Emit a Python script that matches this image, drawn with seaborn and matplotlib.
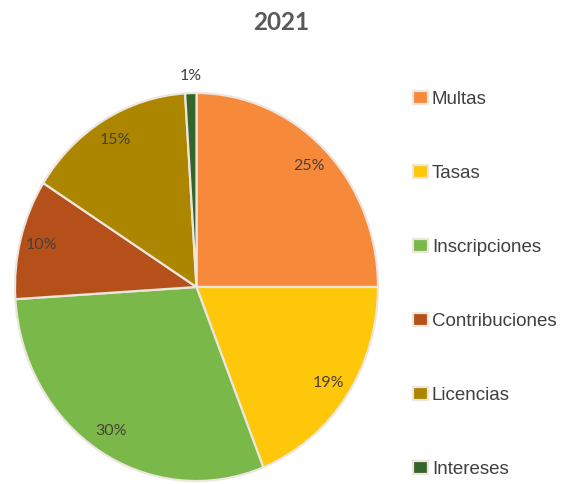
import matplotlib.pyplot as plt
import seaborn as sns
import numpy as np

sns.set_theme(style="white")
plt.rcParams['font.family'] = ['Liberation Sans', 'DejaVu Sans']

# Data
categorias = ['Multas', 'Tasas', 'Inscripciones', 'Contribuciones', 'Licencias', 'Intereses']
porcentajes = [25, 19, 30, 10, 15, 1]
colores = ['#F7893B', '#FEC70A', '#7AB84A', '#B5501A', '#AD8600', '#34662C']
titulo = '2021'

palette = sns.color_palette(colores)

fig = plt.figure(figsize=(5.74, 4.84), dpi=100)
# the pie in the reference is slightly taller than wide
ax = fig.add_axes([15 / 574, 3 / 484, 363 / 574, 388 / 484])

wedges, textos, pct = ax.pie(
    porcentajes,
    colors=palette,
    startangle=90,
    counterclock=False,
    autopct='%1.0f%%',
    pctdistance=0.88,
    wedgeprops=dict(edgecolor='#ece6df', linewidth=1.6),
    textprops=dict(color='#4a4036', fontsize=11.5, family=['Lato', 'DejaVu Sans']),
)
ax.set_aspect('auto')
ax.set_xlim(-1, 1)
ax.set_ylim(-1, 1)

# the tiny slice gets its label just outside the pie
w = wedges[-1]
ang = np.deg2rad((w.theta1 + w.theta2) / 2)
pct[-1].set_position((1.09 * np.cos(ang), 1.09 * np.sin(ang)))
pct[-1].set_color('#404040')

fig.text(281 / 574, 1 - 23 / 484, titulo, ha='center', va='center',
         fontsize=17.5, fontweight='bold', color='#595959', family=['Lato', 'DejaVu Sans'])

leg = fig.legend(
    wedges, categorias,
    loc='upper left', bbox_to_anchor=(413 / 574, 1 - 91 / 484),
    frameon=False, fontsize=13.5,
    borderpad=0, borderaxespad=0,
    handlelength=0.8, handleheight=0.7, handletextpad=0.2,
    labelspacing=3.03,
)
for t in leg.get_texts():
    t.set_color('#404040')

plt.savefig('out.png', dpi=100)
